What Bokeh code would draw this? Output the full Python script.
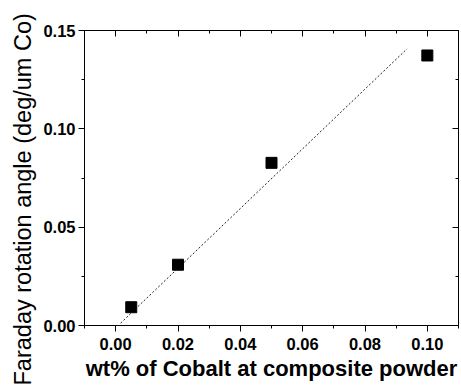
from bokeh.plotting import figure
from bokeh.models import LinearAxis, Range1d, FixedTicker, Title, CustomJSTickFormatter
from bokeh.embed import file_html
from bokeh.resources import INLINE

# data
wt_cobalt = [0.005, 0.020, 0.050, 0.100]
faraday_angle = [0.0093, 0.0309, 0.0827, 0.1373]
fit_x = [0.0016, 0.0935]
fit_y = [0.0012, 0.1407]
x_ticks = [0.00, 0.02, 0.04, 0.06, 0.08, 0.10]
x_minor = [-0.01, 0.01, 0.03, 0.05, 0.07, 0.09, 0.11]
y_ticks = [0.00, 0.05, 0.10, 0.15]
y_minor = [0.025, 0.075, 0.125]
y_title = "Faraday rotation angle (deg/um Co)"
x_title = "wt% of Cobalt at composite powder"

FONT = "Liberation Sans"

p = figure(width=461, height=389, output_backend="svg", toolbar_location=None,
           x_range=Range1d(-0.01, 0.11), y_range=Range1d(0.0, 0.15),
           min_border_left=84, min_border_right=3, min_border_top=30,
           min_border_bottom=64)
p.grid.visible = False
p.outline_line_color = "black"
p.outline_line_width = 1
p.background_fill_color = "white"
p.border_fill_color = "white"

p.line(fit_x, fit_y, line_color="#222222", line_width=1, line_dash="2 2")
p.scatter(wt_cobalt, faraday_angle, marker="square", size=11,
          fill_color="black", line_color="black")

def style(ax, ticks, minor, inward, labels):
    ax.ticker = FixedTicker(ticks=ticks, minor_ticks=minor)
    ax.axis_line_color = "black"
    ax.major_tick_line_color = "black"
    ax.minor_tick_line_color = "black"
    if inward:
        ax.major_tick_in = 6
        ax.major_tick_out = 0
        ax.minor_tick_in = 3
        ax.minor_tick_out = 0
    else:
        ax.major_tick_in = 0
        ax.major_tick_out = 6
        ax.minor_tick_in = 0
        ax.minor_tick_out = 3
    if not labels:
        ax.major_label_text_font_size = "0px"
        ax.major_label_text_color = None
    else:
        ax.major_label_text_font = FONT
        ax.major_label_text_font_style = "bold"
        ax.major_label_text_font_size = "16.5px"
        ax.major_label_text_color = "black"

xa = p.xaxis[0]
style(xa, x_ticks, x_minor, False, True)
xa.formatter = CustomJSTickFormatter(code="return tick.toFixed(2);")
xa.major_label_standoff = 6
xa.axis_label = x_title
xa.axis_label_text_font = FONT
xa.axis_label_text_font_style = "bold"
xa.axis_label_text_font_size = "22px"
xa.axis_label_text_color = "black"
xa.axis_label_standoff = 3

ya = p.yaxis[0]
style(ya, y_ticks, y_minor, False, True)
ya.formatter = CustomJSTickFormatter(code="return tick.toFixed(2);")
ya.major_label_standoff = 3

top = LinearAxis()
style(top, x_ticks, x_minor, True, False)
p.add_layout(top, "above")
right = LinearAxis()
style(right, y_ticks, y_minor, True, False)
p.add_layout(right, "right")

t = Title(text=y_title, align="left",
          text_font=FONT, text_font_style="normal", text_font_size="23.5px",
          text_color="black", offset=-60)
p.add_layout(t, "left")

open("out.html", "w").write(file_html(p, INLINE))
